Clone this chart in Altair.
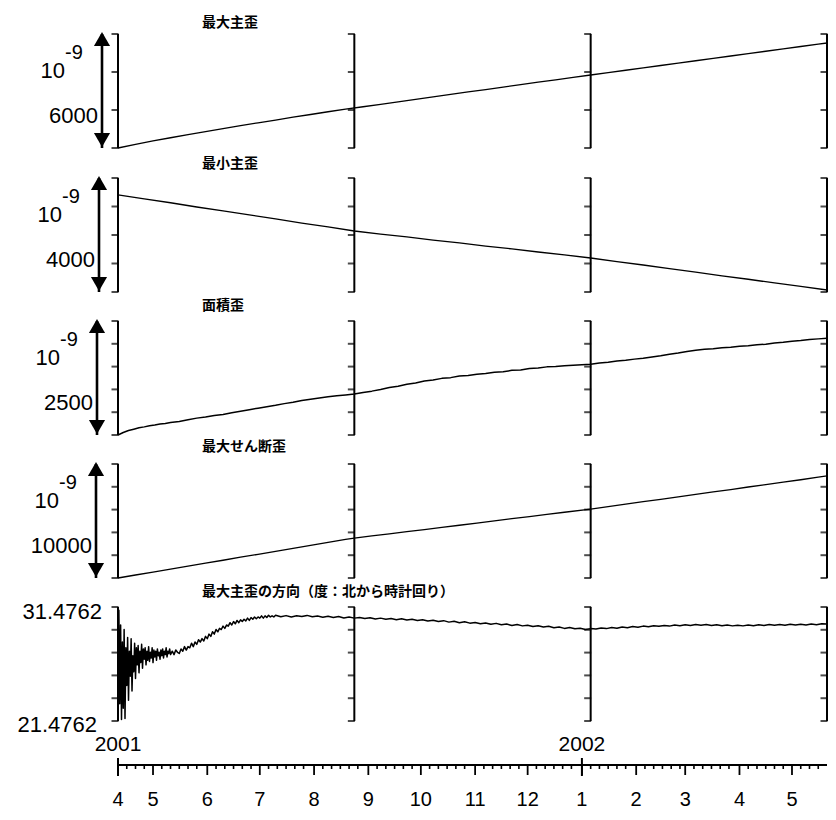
import altair as alt
import pandas as pd

# ---------------- data ----------------
T0 = pd.Timestamp("2001-04-11", tz="UTC")   # left end of the time axis
T1 = pd.Timestamp("2002-05-21", tz="UTC")   # right end of the time axis

bracket_days = [0, 135, 270, 405]           # positions of the "]" scale brackets

# 最大主歪 (nanostrain, relative)
max_days = [0, 10, 20, 30, 40, 50, 60, 70, 80, 90, 100, 110, 120, 130, 140, 150, 160, 170, 180, 190,
            200, 210, 220, 230, 240, 250, 260, 270, 280, 290, 300, 310, 320, 330, 340, 350, 360, 370,
            380, 390, 400, 405]
max_vals = [0, 190, 372, 540, 708, 862, 1022, 1175, 1328, 1472, 1622, 1763, 1908, 2043, 2172, 2298,
            2432, 2558, 2692, 2818, 2952, 3073, 3207, 3333, 3462, 3588, 3717, 3842, 3963, 4092, 4213,
            4342, 4463, 4592, 4713, 4842, 4963, 5092, 5213, 5342, 5463, 5526]

# 最小主歪
min_days = [0, 15, 30, 45, 60, 75, 90, 105, 120, 135, 150, 165, 180, 195, 210, 225, 240, 255, 270,
            285, 300, 315, 330, 345, 360, 375, 390, 405]
min_vals = [-590, -732, -868, -1017, -1153, -1297, -1433, -1582, -1718, -1860, -1967, -2068, -2177,
            -2278, -2387, -2488, -2597, -2698, -2807, -2932, -3053, -3182, -3303, -3432, -3553, -3682,
            -3803, -3930]

# 面積歪
area_days = [0, 3, 6, 9, 12, 15, 18, 21, 24, 27, 30, 35, 40, 45, 50, 55, 60, 65, 70, 75, 80, 85, 90,
             95, 100, 105, 110, 115, 120, 125, 130, 135, 140, 145, 150, 155, 160, 165, 170, 175, 180,
             185, 190, 195, 200, 205, 210, 215, 220, 225, 230, 235, 240, 245, 250, 255, 260, 265, 270,
             275, 280, 285, 290, 295, 300, 305, 310, 315, 320, 325, 330, 335, 340, 345, 350, 355, 360,
             365, 370, 375, 380, 385, 390, 395, 400, 405]
area_vals = [0, 55, 98, 128, 160, 178, 205, 220, 240, 252, 272, 298, 334, 370, 396, 428, 452, 488, 520,
             556, 588, 618, 650, 688, 716, 758, 786, 812, 838, 862, 878, 898, 934, 962, 998, 1042, 1070,
             1112, 1140, 1182, 1206, 1242, 1258, 1292, 1306, 1334, 1348, 1376, 1386, 1418, 1428, 1456,
             1468, 1494, 1502, 1518, 1528, 1542, 1552, 1578, 1596, 1624, 1638, 1664, 1684, 1712, 1738,
             1772, 1798, 1832, 1856, 1878, 1892, 1914, 1922, 1944, 1956, 1978, 1992, 2018, 2032, 2058,
             2070, 2092, 2108, 2124]

# 最大せん断歪
shear_days = [0, 10, 20, 30, 40, 50, 60, 70, 80, 90, 100, 110, 120, 130, 135, 145, 155, 165, 175, 185,
              195, 205, 215, 225, 235, 245, 255, 270, 280, 290, 300, 310, 320, 330, 340, 350, 360, 370,
              380, 390, 400, 405]
shear_vals = [0, 262, 518, 782, 1038, 1302, 1558, 1822, 2078, 2342, 2598, 2862, 3118, 3382, 3500, 3692,
              3878, 4072, 4248, 4442, 4628, 4822, 5008, 5202, 5388, 5582, 5768, 6050, 6262, 6478, 6692,
              6898, 7122, 7328, 7552, 7758, 7982, 8188, 8412, 8618, 8842, 8950]

# 最大主歪の方向 (degrees): half-day readings for the first month, daily to day 90, then every 3 days
dir_days_early = [0, 0.5, 1, 1.5, 2, 2.5, 3, 3.5, 4, 4.5, 5, 5.5, 6, 6.5, 7, 7.5, 8, 8.5, 9, 9.5, 10,
                  10.5, 11, 11.5, 12, 12.5, 13, 13.5, 14, 14.5, 15, 15.5, 16, 16.5, 17, 17.5, 18, 18.5,
                  19, 19.5, 20, 20.5, 21, 21.5, 22, 22.5, 23, 23.5, 24, 24.5, 25, 25.5, 26, 26.5, 27,
                  27.5, 28, 28.5, 29, 29.5, 30]
dir_vals_early = [27.5, 31.2, 23.0, 29.9, 21.6, 28.4, 22.6, 29.5, 21.7, 27.9, 24.6, 28.8, 23.3, 27.6,
                  25.4, 28.7, 24.1, 27.2, 25.8, 28.3, 25.2, 27.9, 26.4, 28.1, 25.7, 27.6, 26.6, 28.2,
                  26.1, 27.8, 26.9, 27.9, 26.4, 27.6, 26.8, 28.0, 26.7, 27.5, 27.0, 27.9, 26.6, 27.7,
                  27.1, 27.6, 26.8, 27.8, 27.2, 27.5, 26.9, 27.7, 27.2, 27.8, 27.0, 27.6, 27.3, 27.9,
                  27.1, 27.6, 27.4, 27.8, 27.3]
dir_days_mid = list(range(31, 91))
dir_vals_mid = [27.6, 27.3, 27.7, 27.5, 27.4, 27.8, 27.6, 28.0, 27.7, 28.0, 27.9, 28.3, 28.0, 28.4,
                28.2, 28.6, 28.4, 28.7, 28.5, 28.9, 28.7, 29.1, 28.9, 29.3, 29.1, 29.5, 29.3, 29.6,
                29.5, 29.8, 29.6, 29.9, 29.8, 30.1, 29.9, 30.2, 30.0, 30.3, 30.1, 30.35, 30.2, 30.4,
                30.25, 30.5, 30.3, 30.55, 30.4, 30.6, 30.45, 30.6, 30.5, 30.7, 30.5, 30.7, 30.55,
                30.75, 30.6, 30.7, 30.6, 30.75]
dir_days_late = list(range(93, 406, 3))
dir_vals_late = [30.62, 30.72, 30.60, 30.70, 30.64, 30.74, 30.62, 30.68, 30.58, 30.66, 30.56, 30.64,
                 30.52, 30.60, 30.50, 30.56, 30.46, 30.54, 30.42, 30.50, 30.40, 30.46, 30.36, 30.44,
                 30.33, 30.40, 30.30, 30.36, 30.25, 30.32, 30.20, 30.28, 30.15, 30.22, 30.10, 30.18,
                 30.06, 30.12, 30.00, 30.08, 29.96, 30.04, 29.92, 29.98, 29.86, 29.94, 29.82, 29.88,
                 29.76, 29.84, 29.72, 29.78, 29.66, 29.72, 29.60, 29.68, 29.56, 29.62, 29.50, 29.58,
                 29.54, 29.64, 29.58, 29.68, 29.62, 29.72, 29.66, 29.76, 29.70, 29.80, 29.74, 29.84,
                 29.78, 29.86, 29.80, 29.90, 29.84, 29.92, 29.86, 29.94, 29.88, 29.94, 29.86, 29.92,
                 29.84, 29.90, 29.82, 29.88, 29.82, 29.90, 29.84, 29.92, 29.86, 29.94, 29.88, 29.94,
                 29.88, 29.96, 29.90, 29.96, 29.90, 29.98, 29.92, 30.00, 29.98]
dir_days = dir_days_early + dir_days_mid + dir_days_late
dir_vals = dir_vals_early + dir_vals_mid + dir_vals_late

titles = ["最大主歪", "最小主歪", "面積歪", "最大せん断歪", "最大主歪の方向（度：北から時計回り）"]
ranges = [(0, 6000), (-4000, 0), (0, 2500), (0, 10000), (21.4762, 31.4762)]
tick_sets = [[0, 2000, 4000, 6000],
             [-4000, -3000, -2000, -1000, 0],
             [0, 500, 1000, 1500, 2000, 2500],
             [0, 2000, 4000, 6000, 8000, 10000],
             [21.4762, 23.4762, 25.4762, 27.4762, 29.4762, 31.4762]]
scale_labels = ["6000", "4000", "2500", "10000"]
year_labels = ["2001", "2002"]
year_dates = ["2001-04-11", "2002-01-01"]
month_dates = ["2001-04-11", "2001-05-01", "2001-06-01", "2001-07-01", "2001-08-01", "2001-09-01",
               "2001-10-01", "2001-11-01", "2001-12-01", "2002-01-01", "2002-02-01", "2002-03-01",
               "2002-04-01", "2002-05-01"]
month_labels = ["4", "5", "6", "7", "8", "9", "10", "11", "12", "1", "2", "3", "4", "5"]
minor_days_of_month = [6, 11, 16, 21, 26]

# ---------------- layout ----------------
NUM = "Liberation Sans"
CJK = "Noto Sans CJK JP"
W = 709                       # plot width
H = 114                       # height of one panel
tops = [0, 144, 287, 430, 573]
VIEW_H = 687
title_y = [-11, 130, 272, 413, 558]
arrow_x = [-16, -19, -21, -22]
PAD_L, PAD_T, PAD_R, PAD_B = 110, 26, 1, 91


def iso(d):
    return (T0 + pd.Timedelta(days=d)).strftime("%Y-%m-%dT%H:%M:%SZ")


def ms(ts):
    return int(ts.timestamp() * 1000)


XS = alt.Scale(type="utc", domain=[ms(T0), ms(T1)])
one = pd.DataFrame({"k": [0]})


def panel(days, vals, idx, lw=1.3):
    lo, hi = ranges[idx]
    top = tops[idx]
    ys = alt.Scale(domain=[lo, hi], range=[top + H, top], nice=False, zero=False)
    xe = alt.X("date:T", scale=XS, axis=None)
    line_df = pd.DataFrame({"date": [iso(d) for d in days], "v": vals})
    line = alt.Chart(line_df).mark_line(color="black", strokeWidth=lw, strokeJoin="round").encode(
        x=xe, y=alt.Y("v:Q", scale=ys, axis=None))
    br_df = pd.DataFrame({"date": [iso(d) for d in bracket_days]})
    rules = alt.Chart(br_df).mark_rule(color="black", strokeWidth=2).encode(
        x=xe, y=alt.Y(datum=lo, scale=ys, axis=None), y2=alt.datum(hi))
    tk_df = pd.DataFrame([{"date": iso(d), "t": t} for d in bracket_days for t in tick_sets[idx]])
    tks = alt.Chart(tk_df).mark_tick(orient="horizontal", color="black", size=7, thickness=2,
                                     xOffset=-3).encode(x=xe, y=alt.Y("t:Q", scale=ys, axis=None))
    ttl = alt.Chart(one).mark_text(text=titles[idx], align="left", baseline="middle", fontSize=14,
                                   font=CJK, fontWeight="bold", color="black").encode(
        x=alt.value(84), y=alt.value(title_y[idx]))
    layers = [line, rules, tks, ttl]
    if idx < 4:
        ax = arrow_x[idx]
        shaft = alt.Chart(one).mark_rule(color="black", strokeWidth=2.6).encode(
            x=alt.value(ax), y=alt.Y(datum=lo, scale=ys, axis=None), y2=alt.datum(hi))
        up = alt.Chart(one).mark_point(shape="triangle-up", filled=True, color="black", opacity=1,
                                       size=260, yOffset=5).encode(
            x=alt.value(ax), y=alt.Y(datum=hi, scale=ys, axis=None))
        dn = alt.Chart(one).mark_point(shape="triangle-down", filled=True, color="black", opacity=1,
                                       size=260, yOffset=-8).encode(
            x=alt.value(ax), y=alt.Y(datum=lo, scale=ys, axis=None))
        ten = alt.Chart(one).mark_text(text="10", align="right", baseline="middle", fontSize=22,
                                       font=NUM, color="black").encode(
            x=alt.value(ax - 37), y=alt.value(top + 37))
        exp = alt.Chart(one).mark_text(text="-9", align="left", baseline="middle", fontSize=20,
                                       font=NUM, color="black").encode(
            x=alt.value(ax - 37), y=alt.value(top + 19))
        val = alt.Chart(one).mark_text(text=scale_labels[idx], align="right", baseline="middle",
                                       fontSize=22, font=NUM, color="black").encode(
            x=alt.value(ax - 4), y=alt.value(top + 82))
        layers += [shaft, up, dn, ten, exp, val]
    else:
        lab_df = pd.DataFrame({"v": [hi, lo], "t": [f"{hi:.4f}", f"{lo:.4f}"]})
        tlab = alt.Chart(lab_df.iloc[[0]]).mark_text(align="right", baseline="middle", fontSize=22,
                                                     font=NUM, color="black", dy=5).encode(
            x=alt.value(-16), y=alt.Y("v:Q", scale=ys, axis=None), text="t:N")
        blab = alt.Chart(lab_df.iloc[[1]]).mark_text(align="right", baseline="middle", fontSize=22,
                                                     font=NUM, color="black", dy=4).encode(
            x=alt.value(-21), y=alt.Y("v:Q", scale=ys, axis=None), text="t:N")
        layers += [tlab, blab]
    return alt.layer(*layers)


p1 = panel(max_days, max_vals, 0)
p2 = panel(min_days, min_vals, 1)
p3 = panel(area_days, area_vals, 2, lw=1.5)
p4 = panel(shear_days, shear_vals, 3)
p5 = panel(dir_days, dir_vals, 4, lw=1.5)

# ---------------- bottom time axis drawn from the tick lists ----------------
minor_dates = []
for md in month_dates[1:] + ["2001-04-01"]:
    mt = pd.Timestamp(md, tz="UTC").replace(day=1)
    for dd in minor_days_of_month:
        t = mt.replace(day=dd)
        if T0 < t < T1:
            minor_dates.append(t.strftime("%Y-%m-%dT%H:%M:%SZ"))

AX_Y = 731
xa = alt.X("date:T", scale=XS, axis=None)
axis_line = alt.Chart(pd.DataFrame({"date": [iso(0)], "end": [iso(405)]})).mark_rule(
    color="black", strokeWidth=2).encode(x=xa, x2="end:T", y=alt.value(AX_Y))
mon_df = pd.DataFrame({"date": [d + "T00:00:00Z" for d in month_dates], "lab": month_labels})
major_ticks = alt.Chart(mon_df).mark_rule(color="black", strokeWidth=1.8).encode(
    x=xa, y=alt.value(AX_Y), y2=alt.value(AX_Y + 10))
minor_ticks = alt.Chart(pd.DataFrame({"date": minor_dates})).mark_rule(
    color="black", strokeWidth=1.6).encode(x=xa, y=alt.value(AX_Y), y2=alt.value(AX_Y + 4))
mon_text = alt.Chart(mon_df).mark_text(baseline="middle", fontSize=20, font=NUM, color="black").encode(
    x=xa, y=alt.value(AX_Y + 35), text="lab:N")
yr_df = pd.DataFrame({"date": [d + "T00:00:00Z" for d in year_dates], "t": year_labels})
yr_text = alt.Chart(yr_df).mark_text(baseline="middle", fontSize=21, font=NUM, color="black").encode(
    x=xa, y=alt.value(AX_Y - 20), text="t:N")
yr_tick = alt.Chart(yr_df).mark_rule(color="black", strokeWidth=2).encode(
    x=xa, y=alt.value(AX_Y - 7), y2=alt.value(AX_Y + 11))
time_axis = alt.layer(axis_line, major_ticks, minor_ticks, mon_text, yr_text, yr_tick)

chart = alt.layer(p1, p2, p3, p4, p5, time_axis).resolve_scale(y="independent").properties(
    width=W, height=VIEW_H,
    autosize=alt.AutoSizeParams(type="none"),
    padding={"left": PAD_L, "top": PAD_T, "right": PAD_R, "bottom": PAD_B},
).configure_view(stroke=None)

chart.save("out.html", embed_options={"renderer": "svg", "actions": False})
